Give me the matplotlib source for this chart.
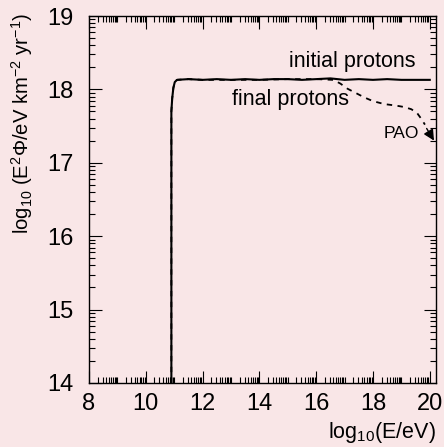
import numpy as np
import matplotlib
matplotlib.use("Agg")
import matplotlib.pyplot as plt
from matplotlib.ticker import FixedLocator, NullFormatter

plt.rcParams["font.family"] = ["Liberation Sans", "DejaVu Sans"]
plt.rcParams["mathtext.fontset"] = "custom"
plt.rcParams["mathtext.rm"] = "Liberation Sans"
plt.rcParams["mathtext.it"] = "Liberation Sans"

BG = "#f9e6e7"

# log10(E/eV) and log10(E^2 Phi)
energy_initial = [10.9, 10.9, 10.93, 10.97, 11.02, 11.1, 11.5, 12.0, 12.5, 13.0, 13.5,
                  14.0, 14.5, 15.0, 15.5, 16.0, 16.5, 17.0, 17.5, 18.0, 18.5, 19.0,
                  19.5, 20.0]
flux_initial = [14.0, 17.7, 17.88, 18.02, 18.1, 18.13, 18.14, 18.13, 18.14, 18.13, 18.14,
                18.13, 18.14, 18.14, 18.13, 18.14, 18.15, 18.13, 18.14, 18.13, 18.14, 18.13,
                18.13, 18.13]

energy_final = [10.9, 10.9, 10.93, 10.97, 11.02, 11.1, 11.5, 12.0, 13.0, 14.0, 15.0,
                16.0, 16.6, 16.85, 17.1, 17.4, 17.7, 18.0, 18.4, 18.8, 19.1, 19.35,
                19.55, 19.7, 19.83]
flux_final = [14.0, 17.7, 17.88, 18.02, 18.1, 18.13, 18.14, 18.13, 18.13, 18.13, 18.14,
              18.14, 18.13, 18.08, 18.01, 17.95, 17.89, 17.84, 17.8, 17.78, 17.76, 17.73,
              17.68, 17.6, 17.52]

fig = plt.figure(figsize=(4.44, 4.47), dpi=100, facecolor=BG)
ax = fig.add_axes([0.2005, 0.1432, 0.7815, 0.821], facecolor=BG)

ax.plot(energy_final, flux_final, color="black", lw=1.3, ls=(0, (3, 3)))
ax.plot(energy_initial, flux_initial, color="black", lw=1.5)

ax.text(17.27, 18.38, "initial protons", fontsize=15.5, ha="center", va="center")
ax.text(15.1, 17.86, "final protons", fontsize=15.5, ha="center", va="center")
ax.text(19.0, 17.4, "PAO", fontsize=12.5, ha="center", va="center")
ax.annotate("", xy=(20.2, 17.27), xytext=(19.84, 17.5),
            arrowprops=dict(arrowstyle="-|>", color="black", lw=1.0, mutation_scale=16))

ax.set_xlim(8, 20.22)
ax.set_ylim(14, 19)

ax.set_xticks(np.arange(8, 21, 2))
ax.set_yticks(np.arange(14, 20, 1))
xminor = [n + np.log10(k) for n in range(8, 21) for k in range(1, 10)]
yminor = [n + np.log10(k) for n in range(14, 19) for k in range(2, 10)]
ax.xaxis.set_minor_locator(FixedLocator([v for v in xminor if v <= 20.22]))
ax.yaxis.set_minor_locator(FixedLocator(yminor))
ax.xaxis.set_minor_formatter(NullFormatter())

ax.tick_params(which="both", direction="in", top=True, right=True, width=0.8,
               labelsize=17, colors="black")
ax.tick_params(which="major", length=9)
ax.tick_params(which="minor", length=4.5)
ax.tick_params(axis="x", pad=7)
ax.tick_params(axis="y", pad=11)

for s in ax.spines.values():
    s.set_linewidth(1.0)

fig.text(0.982, 0.032, r"log$_{10}$(E/eV)", fontsize=15.5, ha="right", va="center")
fig.text(0.05, 0.972, r"log$_{10}$ (E$^{2}$$\Phi$/eV km$^{-2}$ yr$^{-1}$)", fontsize=14.6,
         rotation=90, ha="center", va="top")

fig.savefig("out.png", dpi=100, facecolor=BG)
